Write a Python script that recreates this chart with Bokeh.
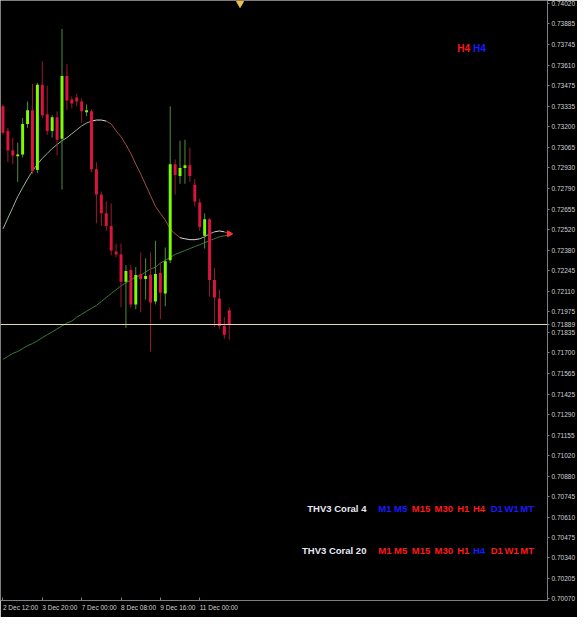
from bokeh.plotting import figure
from bokeh.models import FixedTicker, Range1d, Span, Label, ColumnDataSource
from bokeh.embed import file_html
from bokeh.resources import INLINE

# ---------------- data (H4 candles) ----------------
OPEN = [0.73337, 0.73174, 0.73044, 0.73005, 0.73018, 0.73220, 0.73311, 0.72914, 0.73480, 0.73285,
        0.73174, 0.73265, 0.73122, 0.73538, 0.73382, 0.73395, 0.73369, 0.73298, 0.73304, 0.72920,
        0.72751, 0.72627, 0.72543, 0.72374, 0.72354, 0.72172, 0.72250, 0.72022, 0.72224, 0.72191,
        0.72217, 0.72042, 0.72230, 0.72094, 0.72315, 0.72953, 0.72875, 0.72927, 0.72946, 0.72816,
        0.72699, 0.72478, 0.72588, 0.72185, 0.72061, 0.71879, 0.71983]
HIGH = [0.73350, 0.73194, 0.73129, 0.73096, 0.73259, 0.73369, 0.73486, 0.73493, 0.73636, 0.73473,
        0.73278, 0.73304, 0.73851, 0.73617, 0.73402, 0.73421, 0.73389, 0.73350, 0.73317, 0.72966,
        0.72771, 0.72706, 0.72693, 0.72426, 0.72426, 0.72283, 0.72283, 0.72270, 0.72367, 0.72328,
        0.72367, 0.72445, 0.72302, 0.72400, 0.73337, 0.72985, 0.73109, 0.73115, 0.73063, 0.72855,
        0.72725, 0.72627, 0.72595, 0.72263, 0.72120, 0.71938, 0.72003]
LOW = [0.73148, 0.72966, 0.72953, 0.72836, 0.72998, 0.73194, 0.72888, 0.72894, 0.73259, 0.73148,
       0.73129, 0.73011, 0.72784, 0.73311, 0.73324, 0.73337, 0.73226, 0.73272, 0.72901, 0.72562,
       0.72543, 0.72510, 0.72348, 0.72335, 0.72003, 0.71866, 0.72003, 0.71990, 0.71970, 0.72055,
       0.71710, 0.72022, 0.71925, 0.72009, 0.72296, 0.72751, 0.72823, 0.72823, 0.72836, 0.72673,
       0.72510, 0.72393, 0.72074, 0.71873, 0.71860, 0.71794, 0.71788]
CLOSE = [0.73161, 0.73044, 0.73011, 0.73018, 0.73220, 0.73311, 0.72907, 0.73480, 0.73278, 0.73174,
         0.73265, 0.73115, 0.73538, 0.73376, 0.73356, 0.73369, 0.73304, 0.73311, 0.72920, 0.72751,
         0.72627, 0.72543, 0.72380, 0.72354, 0.72172, 0.72244, 0.72022, 0.72217, 0.72191, 0.72211,
         0.72035, 0.72224, 0.72100, 0.72309, 0.72953, 0.72881, 0.72927, 0.72946, 0.72875, 0.72706,
         0.72536, 0.72588, 0.72185, 0.72068, 0.71879, 0.71821, 0.71889]

CORAL_4 = [0.72523, 0.72595, 0.72666, 0.72738, 0.72797, 0.72855, 0.72907, 0.72953, 0.72992, 0.73024,
           0.73057, 0.73083, 0.73109, 0.73129, 0.73155, 0.73181, 0.73207, 0.73226, 0.73239, 0.73246,
           0.73246, 0.73239, 0.73220, 0.73174, 0.73135, 0.73083, 0.73024, 0.72953, 0.72888, 0.72816,
           0.72745, 0.72673, 0.72627, 0.72582, 0.72523, 0.72491, 0.72465, 0.72458, 0.72452, 0.72452,
           0.72458, 0.72471, 0.72491, 0.72504, 0.72510, 0.72504, 0.72491]
CORAL_20 = [0.71658, 0.71677, 0.71697, 0.71710, 0.71729, 0.71749, 0.71762, 0.71781, 0.71801, 0.71821,
            0.71840, 0.71860, 0.71879, 0.71899, 0.71912, 0.71938, 0.71957, 0.71977, 0.71996, 0.72016,
            0.72042, 0.72068, 0.72094, 0.72120, 0.72146, 0.72165, 0.72185, 0.72204, 0.72217, 0.72237,
            0.72257, 0.72270, 0.72296, 0.72315, 0.72335, 0.72354, 0.72367, 0.72380, 0.72393, 0.72406,
            0.72419, 0.72432, 0.72445, 0.72458, 0.72471, 0.72478, 0.72484]

LAST_PRICE = 0.71889
LAST_PRICE_LABEL = "0.71889"
X_TICK_IDX = [0, 8, 16, 24, 32, 40]
X_TICK_LABELS = ["2 Dec 12:00", "3 Dec 20:00", "7 Dec 00:00", "8 Dec 08:00", "9 Dec 16:00", "11 Dec 00:00"]
Y_TICK_LABELS = ["0.74020", "0.73885", "0.73745", "0.73610", "0.73475", "0.73335", "0.73200", "0.73065",
                 "0.72930", "0.72790", "0.72655", "0.72520", "0.72380", "0.72245", "0.72110", "0.71975",
                 "0.71835", "0.71700", "0.71565", "0.71425", "0.71290", "0.71155", "0.71020", "0.70880",
                 "0.70745", "0.70610", "0.70475", "0.70340", "0.70205", "0.70070"]

TF_LABELS = ["M1", "M5", "M15", "M30", "H1", "H4", "D1", "W1", "MT"]
CORAL4_STATE = ["dn", "dn", "up", "up", "up", "up", "dn", "dn", "dn"]
CORAL20_STATE = ["up", "up", "up", "up", "up", "dn", "up", "up", "up"]

# ---------------- styling ----------------
W, H = 577, 617
SX, SY = W / 585.0, H / 625.0          # layout laid out on a 585x625 grid, scaled to fit
FRAME_W, FRAME_H = 548, 604
BG = "#000000"
UP_BODY, DN_BODY = "#7cfc00", "#dc143c"
UP_WICK, DN_WICK = "#4f8f35", "#9a1a30"
RED_TXT, BLUE_TXT = "#ff1a1a", "#1a1aff"

n = len(OPEN)
idx = list(range(n))
X_START, X_END = -0.5, 110.7
Y_TOP, Y_BOTTOM = 0.740395, 0.700570
PX = (Y_TOP - Y_BOTTOM) / FRAME_H

p = figure(width=W, height=H, output_backend="svg", toolbar_location=None,
           x_range=Range1d(X_START, X_END), y_range=Range1d(Y_BOTTOM, Y_TOP),
           y_axis_location="right", min_border_left=0, min_border_top=0,
           min_border_right=W - FRAME_W, min_border_bottom=H - FRAME_H)
p.background_fill_color = BG
p.border_fill_color = BG
p.outline_line_color = None
p.grid.visible = False

up = [c >= o for o, c in zip(OPEN, CLOSE)]
src = ColumnDataSource(dict(
    x=idx, high=HIGH, low=LOW,
    top=[max(o, c) for o, c in zip(OPEN, CLOSE)],
    bottom=[min(o, c) - (0 if abs(o - c) > PX else PX) for o, c in zip(OPEN, CLOSE)],
    body=[UP_BODY if u else DN_BODY for u in up],
    wick=[UP_WICK if u else DN_WICK for u in up],
))

# moving averages (Coral 20 slow, Coral 4 fast coloured by slope)
seg_x, seg_y, seg_c = [], [], []
for i in range(n - 1):
    d = CORAL_4[i + 1] - CORAL_4[i]
    seg_x.append([i, i + 1])
    seg_y.append([CORAL_4[i], CORAL_4[i + 1]])
    seg_c.append("#9ab49a" if d > 8e-5 else ("#a0503e" if d < -8e-5 else "#d8d8d8"))
p.line(idx, CORAL_20, line_color="#347a38", line_width=1)
p.multi_line(seg_x, seg_y, line_color=seg_c, line_width=1)
p.scatter([n - 1], [CORAL_4[-1]], marker="triangle", angle=-1.5708, size=6,
          fill_color="#ff3030", line_color="#ff3030")

# candles
p.segment(x0="x", y0="high", x1="x", y1="low", line_color="wick", line_width=1, source=src)
p.vbar(x="x", width=0.6, top="top", bottom="bottom", fill_color="body", line_color=None, source=src)

# current price line + top border
p.add_layout(Span(location=LAST_PRICE, dimension="width", line_color="#e6dcb4", line_width=1))
p.add_layout(Span(location=Y_TOP, dimension="width", line_color="#808080", line_width=1))

# chart-shift marker
p.scatter([n + 1.2], [Y_TOP - 3 * PX], marker="inverted_triangle", size=7,
          fill_color="#f0c040", line_color="#f0c040")

# price axis
y_ticks = [float(t) for t in Y_TICK_LABELS] + [LAST_PRICE]
y_labels = Y_TICK_LABELS + [LAST_PRICE_LABEL]
ya = p.yaxis[0]
ya.ticker = FixedTicker(ticks=y_ticks)
ya.major_label_overrides = {t: l for t, l in zip(y_ticks, y_labels)}
ya.axis_line_color = "#808080"
ya.major_tick_line_color = "#808080"
ya.major_tick_in = 0
ya.major_tick_out = 2
ya.minor_tick_line_color = None
ya.major_label_standoff = 2
ya.major_label_text_font = "Liberation Sans"
ya.major_label_text_font_size = "6.5px"
ya.major_label_text_color = "#d0d0d0"

# time axis: labels start at their tick (tiny negative angle -> left aligned)
xa = p.xaxis[0]
xa.ticker = FixedTicker(ticks=X_TICK_IDX)
xa.major_label_overrides = {t: l for t, l in zip(X_TICK_IDX, X_TICK_LABELS)}
xa.axis_line_color = "#808080"
xa.major_tick_line_color = "#808080"
xa.major_tick_in = 3
xa.major_tick_out = 0
xa.minor_tick_line_color = None
xa.major_label_orientation = -0.0001
xa.major_label_standoff = 7
xa.major_label_text_font = "Liberation Sans"
xa.major_label_text_font_size = "6.5px"
xa.major_label_text_color = "#d0d0d0"

# indicator panels, positioned on the 585x625 grid (screen units from frame bottom-left)
def put(txt, x, y, color, size="9.5px", align="left"):
    p.add_layout(Label(x=x * SX, y=FRAME_H - y * SY, x_units="screen", y_units="screen", text=txt,
                       text_font="Liberation Sans", text_font_style="bold", text_font_size=size,
                       text_color=color, text_baseline="middle", text_align=align))

put("H4", 463, 53, RED_TXT, "10px")
put("H4", 479, 53, BLUE_TXT, "10px")

col_x = [383, 399, 417, 440, 463, 479, 497, 511, 527]
for title, states, y in (("THV3 Coral 4", CORAL4_STATE, 519), ("THV3 Coral 20", CORAL20_STATE, 561)):
    put(title, 371, y, "#e8e8f4", align="right")
    for tf, st, x in zip(TF_LABELS, states, col_x):
        put(tf, x, y, RED_TXT if st == "up" else BLUE_TXT)

open("out.html", "w").write(file_html(p, INLINE))
